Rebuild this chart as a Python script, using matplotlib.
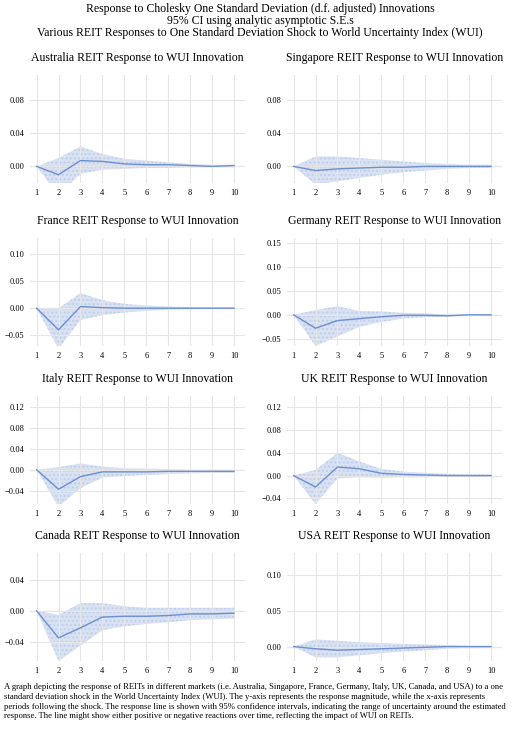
import matplotlib
matplotlib.use("Agg")
import matplotlib.pyplot as plt
import numpy as np

plt.rcParams['font.family'] = ['Liberation Serif', 'DejaVu Serif']

periods = list(range(1, 11))
countries = ["Australia", "Singapore", "France", "Germany", "Italy", "UK", "Canada", "USA"]
resp = {
 "Australia": [0,-0.01,0.007,0.006,0.003,0.002,0.002,0.001,0.000,0.001],
 "Singapore": [0,-0.005,-0.003,-0.002,-0.001,-0.001,0,0,0,0],
 "France": [0,-0.04,0.003,0.001,0,0,0,0,0,0],
 "Germany": [0,-0.028,-0.012,-0.008,-0.004,-0.001,-0.001,-0.002,0,0],
 "Italy": [0,-0.037,-0.013,-0.004,-0.004,-0.004,-0.003,-0.003,-0.003,-0.003],
 "UK": [0,-0.02,0.015,0.012,0.004,0.002,0.001,0,0,0],
 "Canada": [0,-0.035,-0.022,-0.008,-0.007,-0.007,-0.006,-0.004,-0.004,-0.003],
 "USA": [0,-0.003,-0.005,-0.004,-0.003,-0.002,-0.001,0,0,0],
}
upper = {
 "Australia": [0,0.01,0.024,0.015,0.009,0.007,0.005,0.003,0.002,0.002],
 "Singapore": [0,0.012,0.012,0.01,0.008,0.006,0.004,0.003,0.002,0.002],
 "France": [0,0,0.028,0.015,0.008,0.005,0.003,0.002,0.001,0.001],
 "Germany": [0,0.01,0.018,0.008,0.007,0.004,0.003,0.001,0,0.001],
 "Italy": [0,0.005,0.012,0.006,0.003,0.002,0.001,0,0,0],
 "UK": [0,0.01,0.04,0.025,0.012,0.007,0.005,0.003,0.002,0.002],
 "Canada": [0,-0.005,0.01,0.01,0.006,0.004,0.004,0.004,0.004,0.004],
 "USA": [0,0.01,0.008,0.006,0.005,0.004,0.003,0.002,0.001,0.001],
}
lower = {
 "Australia": [0,-0.035,-0.009,-0.004,-0.003,-0.002,-0.002,-0.001,-0.001,-0.001],
 "Singapore": [0,-0.022,-0.018,-0.014,-0.01,-0.007,-0.005,-0.003,-0.002,-0.002],
 "France": [0,-0.075,-0.022,-0.013,-0.008,-0.005,-0.003,-0.002,-0.001,-0.001],
 "Germany": [0,-0.065,-0.045,-0.025,-0.015,-0.008,-0.005,-0.004,-0.001,-0.001],
 "Italy": [0,-0.07,-0.035,-0.015,-0.012,-0.01,-0.008,-0.007,-0.006,-0.006],
 "UK": [0,-0.05,-0.005,-0.003,-0.004,-0.003,-0.003,-0.002,-0.002,-0.002],
 "Canada": [0,-0.065,-0.045,-0.025,-0.02,-0.017,-0.015,-0.012,-0.011,-0.01],
 "USA": [0,-0.015,-0.015,-0.012,-0.009,-0.007,-0.005,-0.003,-0.002,-0.002],
}
yticks = {
 "Australia": [0, 0.04, 0.08], "Singapore": [0, 0.04, 0.08],
 "France": [-0.05, 0, 0.05, 0.10], "Germany": [-0.05, 0, 0.05, 0.10, 0.15],
 "Italy": [-0.04, 0, 0.04, 0.08, 0.12], "UK": [-0.04, 0, 0.04, 0.08, 0.12],
 "Canada": [-0.04, 0, 0.04], "USA": [0, 0.05, 0.10],
}
ylims = {
 "Australia": (-0.02, 0.11), "Singapore": (-0.02, 0.11),
 "France": (-0.07, 0.13), "Germany": (-0.065, 0.16),
 "Italy": (-0.065, 0.14), "UK": (-0.05, 0.14),
 "Canada": (-0.065, 0.075), "USA": (-0.02, 0.13),
}

W, H = 520, 741
fig = plt.figure(figsize=(W/100, H/100), dpi=100)
fig.text(0.5, 1-9/H, "Response to Cholesky One Standard Deviation (d.f. adjusted) Innovations", ha='center', va='center', fontsize=8.5)
fig.text(0.5, 1-21/H, "95% CI using analytic asymptotic S.E.s", ha='center', va='center', fontsize=8.5)
fig.text(0.5, 1-33/H, "Various REIT Responses to One Standard Deviation Shock to World Uncertainty Index (WUI)", ha='center', va='center', fontsize=8.5)

row_tops = [75, 238, 396, 553]
axh = 108
col_x = [(30, 245), (287, 502)]
line_c = '#6d8fd0'
for i, c in enumerate(countries):
    r, k = divmod(i, 2)
    x0, x1 = col_x[k]
    ax = fig.add_axes([x0/W, 1-(row_tops[r]+axh)/H, (x1-x0)/W, axh/H])
    ax.fill_between(periods, lower[c], upper[c], color='#c9d6ee', alpha=0.7, hatch='....', edgecolor='#b8c8e8', linewidth=0)
    ax.plot(periods, resp[c], color=line_c, lw=1)
    ax.set_xlim(0.7, 10.5)
    ax.set_ylim(*ylims[c])
    ax.set_xticks(periods)
    ax.set_yticks(yticks[c])
    ax.set_yticklabels([("−" if v < 0 else "") + "{:.2f}".format(abs(v)) for v in yticks[c]])
    ax.grid(True, color='#e6e6e6', lw=0.8)
    ax.axhline(0, color='#d0d0d0', lw=0.8, zorder=0)
    for s in ax.spines.values():
        s.set_visible(False)
    ax.tick_params(length=0, labelsize=6, pad=4)
    ax.set_title(f"{c} REIT Response to WUI Innovation", fontsize=8.5, pad=10)

cap = ("A graph depicting the response of REITs in different markets (i.e. Australia, Singapore, France, Germany, Italy, UK, Canada, and USA) to a one\n"
       "standard deviation shock in the World Uncertainty Index (WUI). The y-axis represents the response magnitude, while the x-axis represents\n"
       "periods following the shock. The response line is shown with 95% confidence intervals, indicating the range of uncertainty around the estimated\n"
       "response. The line might show either positive or negative reactions over time, reflecting the impact of WUI on REITs.")
fig.text(4/W, 1-683/H, cap, ha='left', va='top', fontsize=6.2, linespacing=1.3)
fig.savefig("out.png", dpi=100)
